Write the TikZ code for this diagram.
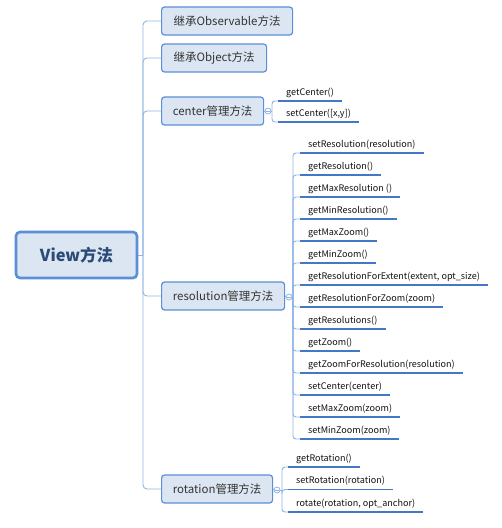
\documentclass[tikz,border=0pt]{standalone}
\usepackage{fontspec}
\setmainfont{Noto Sans CJK SC}
\definecolor{boxblue}{HTML}{5B8FD6}
\definecolor{boxfill}{HTML}{DCE6F2}
\definecolor{connblue}{HTML}{8EB4E3}
\definecolor{ulblue}{HTML}{4578C4}
\definecolor{roottext}{HTML}{2C4A78}
\definecolor{lvltext}{HTML}{333333}
\definecolor{childtext}{HTML}{111111}
\begin{document}
\begin{tikzpicture}[x=1bp,y=-1bp,
  rootbox/.style={draw=boxblue, line width=2.6bp, fill=boxfill, rounded corners=4bp,
    minimum width=121bp, minimum height=46bp, inner sep=0pt,
    font=\fontsize{16.5}{18}\selectfont\bfseries, text=roottext},
  lvl/.style={draw=boxblue, line width=1.2bp, fill=boxfill, rounded corners=3bp,
    minimum height=28bp, anchor=west, inner xsep=4bp, inner ysep=0pt,
    font=\fontsize{11.5}{13}\selectfont, text=lvltext},
  tog/.style={circle, draw=connblue, fill=white, inner sep=0pt, minimum size=6bp, line width=0.8bp,
    path picture={\draw[connblue,line width=0.6bp]
      ([xshift=-1.8bp]path picture bounding box.center) -- ([xshift=1.8bp]path picture bounding box.center);}},
  ch/.style={anchor=south west, inner xsep=8bp, inner ysep=3.5bp, text height=7bp, text depth=2bp,
    font=\fontsize{9.1}{10}\selectfont, text=childtext},
  conn/.style={draw=connblue, line width=0.9bp},
  uline/.style={draw=ulblue, line width=1.9bp}
]
\useasboundingbox (0,0) rectangle (502,528);

% root and trunk
\node[rootbox] (root) at (76.5,255) {View方法};
\coordinate (tk) at (143,255);

% level-1 nodes
\node[lvl, minimum width=131bp] (n1) at (161,21) {继承Observable方法};
\node[lvl, minimum width=105bp] (n2) at (161,58) {继承Object方法};
\node[lvl, minimum width=102bp] (n3) at (161,111) {center管理方法};
\node[lvl, minimum width=123bp] (n4) at (161,296) {resolution管理方法};
\node[lvl, minimum width=111bp] (n5) at (161,489) {rotation管理方法};

\draw[conn] (root.east) -- (tk);
\foreach \n in {n1,n2,n3,n4,n5}
  \draw[conn, rounded corners=4bp] (tk) |- (\n.west);

% toggles
\node[tog] (c3) at (268,111) {};
\node[tog] (c4) at (289,297) {};
\node[tog] (c5) at (277,490) {};
\draw[conn] (n3.east) -- (c3.west);
\draw[conn] (n4.east) -- (c4.west);
\draw[conn] (n5.east) -- (c5.west);

% center children
\coordinate (cv) at (272,111);
\draw[conn] (c3.east) -- (cv);
\node[ch] (a1) at (278,101) {getCenter()};
\node[ch] (a2) at (278,122) {setCenter([x,y])};
\foreach \c in {a1,a2}{
  \draw[conn, rounded corners=3bp] (cv) |- (\c.south west);
  \draw[uline] (\c.south west) -- (\c.south east);
}

% resolution children
\coordinate (rv) at (293,297);
\draw[conn] (c4.east) -- (rv);
\foreach \t [count=\i] in {{setResolution(resolution)},{getResolution()},{getMaxResolution ()},
  {getMinResolution()},{getMaxZoom()},{getMinZoom()},{getResolutionForExtent(extent, opt\_size)},
  {getResolutionForZoom(zoom)},{getResolutions()},{getZoom()},{getZoomForResolution(resolution)},
  {setCenter(center)},{setMaxZoom(zoom)},{setMinZoom(zoom)}}{
  \node[ch] (r\i) at (300,{153+22*(\i-1)}) {\t};
  \draw[conn, rounded corners=3bp] (rv) |- (r\i.south west);
  \draw[uline] (r\i.south west) -- (r\i.south east);
}

% rotation children
\coordinate (tv) at (282,490);
\draw[conn] (c5.east) -- (tv);
\node[ch] (t1) at (288,467) {getRotation()};
\node[ch] (t2) at (288,489.5) {setRotation(rotation)};
\node[ch] (t3) at (288,512) {rotate(rotation, opt\_anchor)};
\foreach \c in {t1,t2,t3}{
  \draw[conn, rounded corners=3bp] (tv) |- (\c.south west);
  \draw[uline] (\c.south west) -- (\c.south east);
}
\end{tikzpicture}
\end{document}
